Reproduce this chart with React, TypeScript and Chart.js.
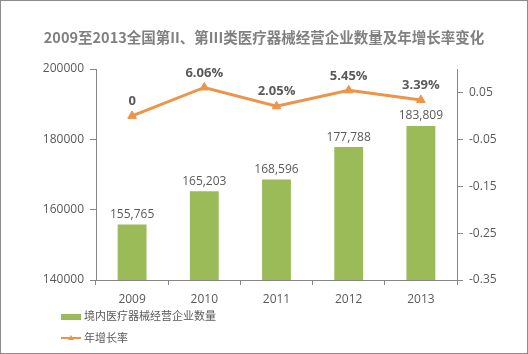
import React, { useEffect, useRef } from "react";
import { Chart, registerables } from "chart.js";

Chart.register(...registerables);

const categories = ["2009", "2010", "2011", "2012", "2013"];
const companyCounts = [155765, 165203, 168596, 177788, 183809];
const growthRates = [0, 0.0606, 0.0205, 0.0545, 0.0339];
const growthLabels = ["0", "6.06%", "2.05%", "5.45%", "3.39%"];
const rightTicks = [-0.35, -0.25, -0.15, -0.05, 0.05];
const rightTickLabels = ["-0.35", "-0.25", "-0.15", "-0.05", "0.05"];
const barName = "境内医疗器械经营企业数量";
const lineName = "年增长率";
const titleText = "2009至2013全国第II、第III类医疗器械经营企业数量及年增长率变化";

const GREEN = "#9BBB59";
const ORANGE = "#EE9448";
const TEXT = "#595959";
const AXIS = "#868686";
const FONT = "'Open Sans', 'Noto Sans CJK SC', sans-serif";

const decorPlugin = {
  id: "decor",
  afterDatasetsDraw(chart: any) {
    const ctx = chart.ctx;
    ctx.save();
    // title
    ctx.fillStyle = "#808080";
    ctx.font = `bold 14.5px 'Noto Sans CJK SC', sans-serif`;
    ctx.textAlign = "center";
    ctx.textBaseline = "middle";
    ctx.fillText(titleText, chart.width / 2, 36);

    // bar labels
    const barMeta = chart.getDatasetMeta(0);
    ctx.font = `12px ${FONT}`;
    ctx.fillStyle = TEXT;
    ctx.textBaseline = "bottom";
    barMeta.data.forEach((el: any, i: number) => {
      ctx.fillText(companyCounts[i].toLocaleString("en-US"), el.x, el.y - 4);
    });

    // line labels
    const lineMeta = chart.getDatasetMeta(1);
    ctx.font = `bold 13px ${FONT}`;
    lineMeta.data.forEach((el: any, i: number) => {
      ctx.fillText(growthLabels[i], el.x, el.y - 8);
    });

    // legend
    ctx.textAlign = "left";
    ctx.textBaseline = "middle";
    ctx.font = `11px 'Noto Sans CJK SC', sans-serif`;
    ctx.fillStyle = GREEN;
    ctx.fillRect(60, 313, 20, 6);
    ctx.fillStyle = TEXT;
    ctx.fillText(barName, 83, 315);
    ctx.strokeStyle = ORANGE;
    ctx.lineWidth = 2;
    ctx.beginPath();
    ctx.moveTo(60, 337);
    ctx.lineTo(80, 337);
    ctx.stroke();
    ctx.fillStyle = ORANGE;
    ctx.beginPath();
    ctx.moveTo(70, 334);
    ctx.lineTo(73, 339);
    ctx.lineTo(67, 339);
    ctx.closePath();
    ctx.fill();
    ctx.fillStyle = TEXT;
    ctx.fillText(lineName, 83, 337);
    ctx.restore();
  },
};

export default function App() {
  const ref = useRef<HTMLCanvasElement>(null);
  useEffect(() => {
    document.body.style.margin = "0";
    const chart = new Chart(ref.current!, {
      type: "bar",
      data: {
        labels: categories,
        datasets: [
          {
            type: "bar",
            label: barName,
            data: companyCounts,
            backgroundColor: GREEN,
            yAxisID: "y",
            categoryPercentage: 1,
            barPercentage: 0.4,
            order: 2,
          },
          {
            type: "line",
            label: lineName,
            data: growthRates,
            borderColor: ORANGE,
            backgroundColor: ORANGE,
            borderWidth: 3,
            pointStyle: "triangle",
            pointRadius: 5,
            pointBorderWidth: 1,
            yAxisID: "y1",
            order: 1,
          } as any,
        ],
      },
      options: {
        responsive: false,
        animation: false,
        layout: { padding: { top: 68, bottom: 0, left: 0, right: 0 } },
        plugins: {
          legend: { display: false },
          title: { display: false },
          tooltip: { enabled: false },
        },
        scales: {
          x: {
            grid: {
              display: true,
              drawOnChartArea: false,
              drawTicks: true,
              tickLength: 5,
              offset: true,
              color: AXIS,
            },
            border: { color: AXIS },
            ticks: { color: TEXT, font: { size: 12, family: FONT }, padding: 7 },
            afterFit(scale: any) {
              scale.height = 73;
            },
          },
          y: {
            position: "left",
            min: 140000,
            max: 200000,
            grid: { drawOnChartArea: false, tickLength: 6, color: AXIS },
            border: { color: AXIS },
            ticks: {
              stepSize: 20000,
              color: TEXT,
              font: { size: 12, family: FONT },
              padding: 6,
              callback: (v: any) => String(v),
            },
            afterFit(scale: any) {
              scale.width = 95;
            },
          },
          y1: {
            position: "right",
            min: -0.35,
            max: 0.1,
            grid: { drawOnChartArea: false, tickLength: 6, color: AXIS },
            border: { color: AXIS },
            afterBuildTicks(scale: any) {
              scale.ticks = rightTicks.map((v) => ({ value: v }));
            },
            ticks: {
              color: TEXT,
              font: { size: 12, family: FONT },
              padding: 6,
              callback: (v: any) => {
                const idx = rightTicks.findIndex((t) => Math.abs(t - v) < 1e-9);
                return idx >= 0 ? rightTickLabels[idx] : "";
              },
            },
            afterFit(scale: any) {
              scale.width = 70;
            },
          },
        },
      },
      plugins: [decorPlugin],
    });
    return () => chart.destroy();
  }, []);
  return (
    <div
      style={{
        width: 528,
        height: 354,
        border: "1px solid #8C8C8C",
        boxSizing: "border-box",
        position: "relative",
        overflow: "hidden",
        background: "#fff",
      }}
    >
      <canvas ref={ref} width={526} height={352} style={{ display: "block" }} />
    </div>
  );
}
